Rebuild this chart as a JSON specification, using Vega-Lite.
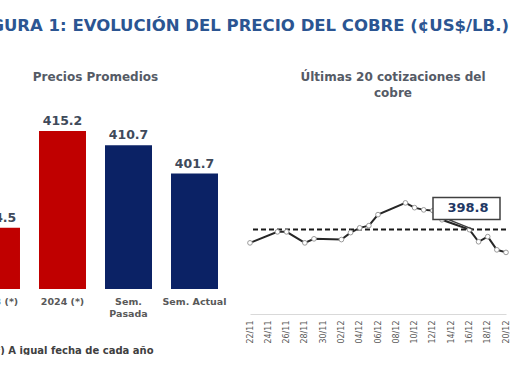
{
  "$schema": "https://vega.github.io/schema/vega-lite/v6.json",
  "padding": {"left": -27, "top": 18, "right": 0, "bottom": 0},
  "background": "white",
  "config": {
    "view": {"stroke": null},
    "font": "DejaVu Sans",
    "title": {"font": "DejaVu Sans"},
    "axis": {"labelFont": "DejaVu Sans", "titleFont": "DejaVu Sans"},
    "axisX": {"labelOverlap": false},
    "axisTemporal": {"labelOverlap": false}
  },
  "title": {
    "text": "FIGURA 1: EVOLUCIÓN DEL PRECIO DEL COBRE (¢US$/LB.)",
    "anchor": "start",
    "frame": "group",
    "fontSize": 16.5,
    "fontWeight": "bold",
    "color": "#2b5592",
    "offset": 36
  },
  "spacing": 18,
  "hconcat": [
    {
      "width": 245,
      "height": 173,
      "title": {"text": "Precios Promedios", "fontSize": 12, "fontWeight": "bold", "color": "#555b66", "offset": 31},
      "data": {"values": [
        {"periodo": "2023 (*)", "precio": 384.5, "tipo": "Anual"},
        {"periodo": "2024 (*)", "precio": 415.2, "tipo": "Anual"},
        {"periodo": "Sem. Pasada", "precio": 410.7, "tipo": "Semanal"},
        {"periodo": "Sem. Actual", "precio": 401.7, "tipo": "Semanal"}
      ]},
      "encoding": {
        "x": {
          "field": "periodo", "type": "nominal", "sort": null,
          "scale": {"paddingInner": 0.288, "paddingOuter": 0},
          "axis": {
            "title": "(*) A igual fecha de cada año",
            "labelAngle": 0, "labelFontSize": 9.5, "labelFontWeight": "bold", "labelColor": "#595959",
            "labelPadding": 7, "labelLineHeight": 12, "domain": false, "ticks": false,
            "labelExpr": "datum.value == 'Sem. Pasada' ? ['Sem.', 'Pasada'] : datum.value",
            "titleX": 17, "titleY": 56, "titleAnchor": "start", "titleAlign": "left", "titleBaseline": "top",
            "titleFontSize": 10, "titleFontWeight": "bold", "titleColor": "#404040"
          }
        },
        "y": {"field": "precio", "type": "quantitative", "scale": {"domain": [365, 420], "zero": false}, "axis": null}
      },
      "layer": [
        {"mark": {"type": "bar", "clip": true}, "encoding": {"color": {"field": "tipo", "type": "nominal", "scale": {"domain": ["Anual", "Semanal"], "range": ["#c00000", "#0b2265"]}, "legend": null}}},
        {"mark": {"type": "text", "baseline": "alphabetic", "dy": -6, "fontSize": 12.5, "fontWeight": "bold", "color": "#404a5a"}, "encoding": {"text": {"field": "precio", "type": "quantitative", "format": ".1f"}}}
      ]
    },
    {
      "width": 256,
      "height": 198,
      "title": {"text": ["Últimas 20 cotizaciones del", "cobre"], "fontSize": 12, "fontWeight": "bold", "color": "#555b66", "offset": 16, "lineHeight": 16.5, "dx": 15},
      "data": {"values": [
        {"fecha": "2024/11/22", "precio": 401.4},
        {"fecha": "2024/11/25", "precio": 404.4},
        {"fecha": "2024/11/26", "precio": 404.4},
        {"fecha": "2024/11/28", "precio": 401.4},
        {"fecha": "2024/11/29", "precio": 402.5},
        {"fecha": "2024/12/02", "precio": 402.3},
        {"fecha": "2024/12/03", "precio": 404.2},
        {"fecha": "2024/12/04", "precio": 405.5},
        {"fecha": "2024/12/05", "precio": 406.1},
        {"fecha": "2024/12/06", "precio": 409.1},
        {"fecha": "2024/12/09", "precio": 412.3},
        {"fecha": "2024/12/10", "precio": 411.0},
        {"fecha": "2024/12/11", "precio": 410.4},
        {"fecha": "2024/12/12", "precio": 410.2},
        {"fecha": "2024/12/13", "precio": 407.7},
        {"fecha": "2024/12/16", "precio": 405.0},
        {"fecha": "2024/12/17", "precio": 401.7},
        {"fecha": "2024/12/18", "precio": 403.1},
        {"fecha": "2024/12/19", "precio": 399.5},
        {"fecha": "2024/12/20", "precio": 398.8}
      ]},
      "encoding": {
        "y": {"field": "precio", "type": "quantitative", "scale": {"domain": [382, 436], "zero": false}, "axis": null}
      },
      "layer": [
        {
          "mark": {"type": "rule", "strokeDash": [5, 3], "strokeWidth": 2, "color": "#1a1a1a"},
          "encoding": {"y": {"aggregate": "mean", "field": "precio", "type": "quantitative", "scale": {"domain": [382, 436], "zero": false}, "axis": null}}
        },
        {
          "layer": [
            {"mark": {"type": "line", "color": "#262626", "strokeWidth": 2}},
            {"mark": {"type": "point", "filled": true, "fill": "white", "stroke": "#9a9a9a", "strokeWidth": 1, "size": 22, "opacity": 1}},
            {
              "transform": [{"filter": {"field": "fecha", "equal": {"year": 2024, "month": 12, "date": 20}}}],
              "layer": [
                {"mark": {"type": "point", "shape": "M-7.3,-5.5L-0.6,-5.5L-0.6,-3.3L-7.3,-3.3Z M-5.8,-3.3L-3.3,-2.3", "size": 400, "filled": true, "fill": "white", "stroke": "#404040", "strokeWidth": 1.5, "opacity": 1}},
                {"mark": {"type": "text", "dx": -38, "dy": -44, "align": "center", "baseline": "middle", "fontSize": 13, "fontWeight": "bold", "color": "#1f3864"},
                 "encoding": {"text": {"field": "precio", "type": "quantitative", "format": ".1f"}}}
              ]
            }
          ],
          "encoding": {
            "x": {"field": "fecha", "type": "temporal",
              "scale": {"domain": [{"year": 2024, "month": 11, "date": 22}, {"year": 2024, "month": 12, "date": 20}]},
              "axis": {
                "values": [
                  {"year": 2024, "month": 11, "date": 22}, {"year": 2024, "month": 11, "date": 24},
                  {"year": 2024, "month": 11, "date": 26}, {"year": 2024, "month": 11, "date": 28},
                  {"year": 2024, "month": 11, "date": 30}, {"year": 2024, "month": 12, "date": 2},
                  {"year": 2024, "month": 12, "date": 4}, {"year": 2024, "month": 12, "date": 6},
                  {"year": 2024, "month": 12, "date": 8}, {"year": 2024, "month": 12, "date": 10},
                  {"year": 2024, "month": 12, "date": 12}, {"year": 2024, "month": 12, "date": 14},
                  {"year": 2024, "month": 12, "date": 16}, {"year": 2024, "month": 12, "date": 18},
                  {"year": 2024, "month": 12, "date": 20}
                ],
                "format": "%d/%m", "labelAngle": -90, "labelFontSize": 8, "labelColor": "#595959",
                "labelPadding": 6, "ticks": false, "domainColor": "#d9d9d9", "grid": false, "title": null,
                "labelFlush": false, "labelOverlap": false, "labelSeparation": 0
              }
            }
          }
        }
      ]
    }
  ]
}
